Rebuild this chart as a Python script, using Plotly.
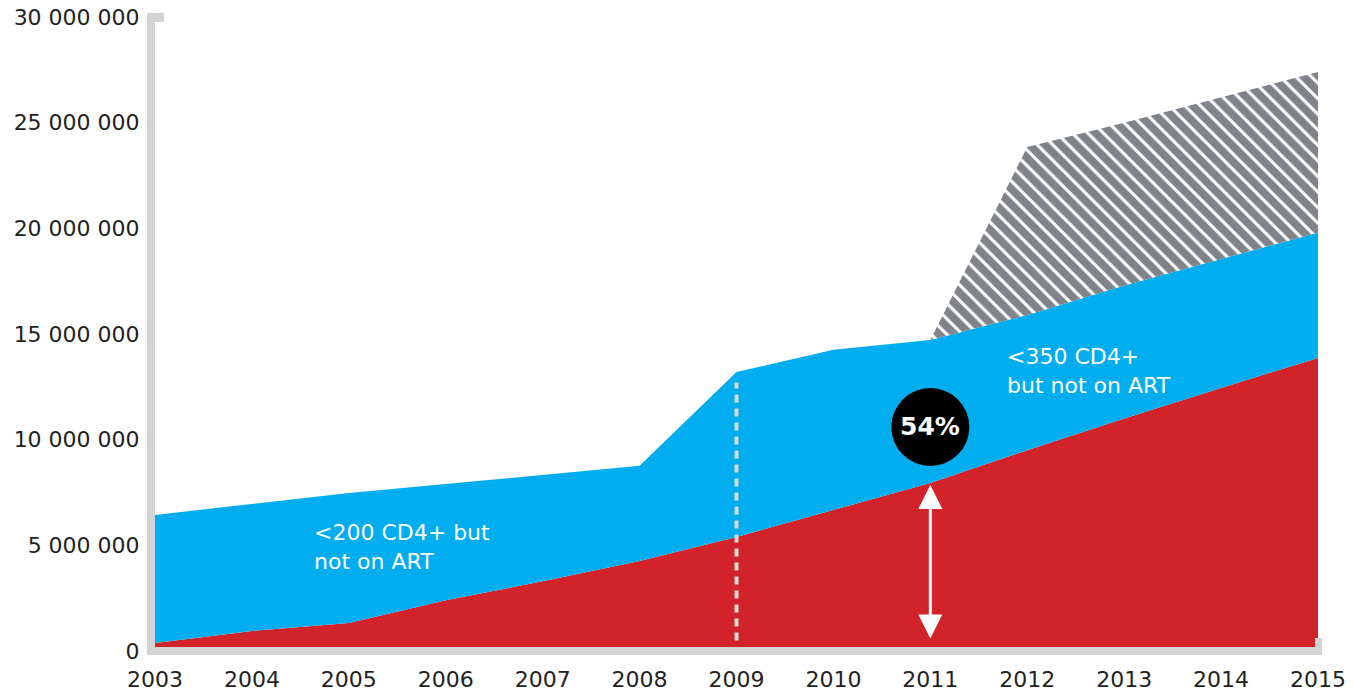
import plotly.graph_objects as go

# Years on the horizontal axis
years = list(range(2003, 2016))

# People on ART (red area)
on_art = [0.38e6, 0.95e6, 1.33e6, 2.4e6, 3.3e6, 4.26e6, 5.4e6,
          6.67e6, 7.95e6, 9.5e6, 11.0e6, 12.45e6, 13.87e6]

# Total eligible (top of the blue area)
eligible = [6.44e6, 6.96e6, 7.48e6, 7.9e6, 8.33e6, 8.76e6, 13.2e6,
            14.25e6, 14.72e6, 15.9e6, 17.3e6, 18.55e6, 19.8e6]

# Extended eligibility from 2011 (hatched area)
ext_years = [2011, 2012, 2013, 2014, 2015]
ext_base = eligible[-5:]
ext_top = [14.72e6, 23.85e6, 25.0e6, 26.2e6, 27.4e6]

# Y axis ticks
y_ticks = [0, 5e6, 10e6, 15e6, 20e6, 25e6, 30e6]
y_labels = ["0", "5 000 000", "10 000 000", "15 000 000",
            "20 000 000", "25 000 000", "30 000 000"]

# Annotated coverage share in 2011
share_year = 2011
share_label = "54%"

RED = "#D2232A"
BLUE = "#00ADEE"
HATCH = "#808389"
AXIS = "#D1D3D4"
TEXT = "#231F20"
FONT = "DejaVu Sans"

fig = go.Figure()

fig.add_trace(go.Scatter(
    x=years, y=on_art, mode="lines", line=dict(width=0, color=RED),
    fill="tozeroy", fillcolor=RED, hoverinfo="skip", showlegend=False))

fig.add_trace(go.Scatter(
    x=years, y=eligible, mode="lines", line=dict(width=0, color=BLUE),
    fill="tonexty", fillcolor=BLUE, hoverinfo="skip", showlegend=False))

fig.add_trace(go.Scatter(
    x=ext_years, y=ext_base, mode="lines", line=dict(width=0, color=BLUE),
    hoverinfo="skip", showlegend=False))

fig.add_trace(go.Scatter(
    x=ext_years, y=ext_top, mode="lines", line=dict(width=0, color=HATCH),
    fill="tonexty", fillcolor="white",
    fillpattern=dict(shape="\\", bgcolor="white", fgcolor=HATCH,
                     fgopacity=1, size=11, solidity=0.72),
    hoverinfo="skip", showlegend=False))

shapes = []

# Dashed marker at 2009
shapes.append(dict(type="line", xref="x", yref="y", x0=2009, x1=2009,
                   y0=0.5e6, y1=12.7e6,
                   line=dict(color="#D8D9DA", width=4, dash="8px,6px"),
                   layer="above"))

# Axis bracket (paper-referenced so it is not clipped to the plot area)
def bracket(xa, ya, x0, x1, y0, y1):
    return dict(type="rect", xref="paper", yref="paper",
                xsizemode="pixel", ysizemode="pixel",
                xanchor=xa, yanchor=ya, x0=x0, x1=x1, y0=y0, y1=y1,
                fillcolor=AXIS, line=dict(width=0), layer="above")

shapes.append(bracket(0, 0, -8, 0, -4, 638))      # left bar
shapes.append(bracket(0, 1, -8, 9, -5, 4))        # top cap
shapes.append(bracket(0, 0, -8, 1167, -4, 4))     # bottom bar
shapes.append(bracket(1, 0, -3, 4, -4, 13))       # right cap

# Black disc holding the share label
shapes.append(dict(type="circle", xref="x", yref="y", xsizemode="pixel",
                   ysizemode="pixel", xanchor=share_year, yanchor=10.6e6,
                   x0=-39, x1=39, y0=-39, y1=39,
                   fillcolor="black", line=dict(width=0), layer="above"))

annotations = [
    dict(x=share_year, y=10.6e6, xref="x", yref="y", text=share_label,
         showarrow=False,
         font=dict(family=FONT, size=25, color="white", weight="bold"),
         xanchor="center", yanchor="middle"),
    # Double-headed arrow spanning the ART bar in 2011
    dict(x=share_year, y=on_art[years.index(share_year)] - 0.1e6,
         ax=share_year, ay=0.52e6, xref="x", yref="y", axref="x", ayref="y",
         text="", showarrow=True, arrowside="end+start",
         arrowhead=2, startarrowhead=2, arrowsize=1.6, startarrowsize=1.6,
         arrowwidth=3, arrowcolor="white", standoff=0, startstandoff=0),
    dict(x=2004.62, y=4.92e6, xref="x", yref="y",
         text="&lt;200 CD4+ but<br>not on ART", showarrow=False,
         xanchor="left", yanchor="middle", align="left",
         font=dict(family=FONT, size=22, color="white")),
    dict(x=2011.77, y=13.25e6, xref="x", yref="y",
         text="&lt;350 CD4+<br>but not on ART", showarrow=False,
         xanchor="left", yanchor="middle", align="left",
         font=dict(family=FONT, size=22, color="white")),
]

fig.update_layout(
    width=1354, height=692,
    margin=dict(l=155, r=36, t=17, b=41, autoexpand=False),
    paper_bgcolor="white", plot_bgcolor="white",
    shapes=shapes, annotations=annotations,
    font=dict(family=FONT, size=22, color=TEXT),
    hovermode=False,
)

fig.update_xaxes(range=[2003, 2015], tickvals=years,
                 ticktext=[str(y) for y in years], automargin=False,
                 showgrid=False, zeroline=False, showline=False,
                 ticks="outside", ticklen=9, tickcolor="rgba(0,0,0,0)",
                 tickfont=dict(family=FONT, size=22, color=TEXT))
fig.update_yaxes(range=[0, 30e6], tickvals=y_ticks, ticktext=y_labels,
                 automargin=False,
                 showgrid=False, zeroline=False, showline=False,
                 ticks="outside", ticklen=10, tickcolor="rgba(0,0,0,0)",
                 tickfont=dict(family=FONT, size=22, color=TEXT))

fig.write_html("out.html")
